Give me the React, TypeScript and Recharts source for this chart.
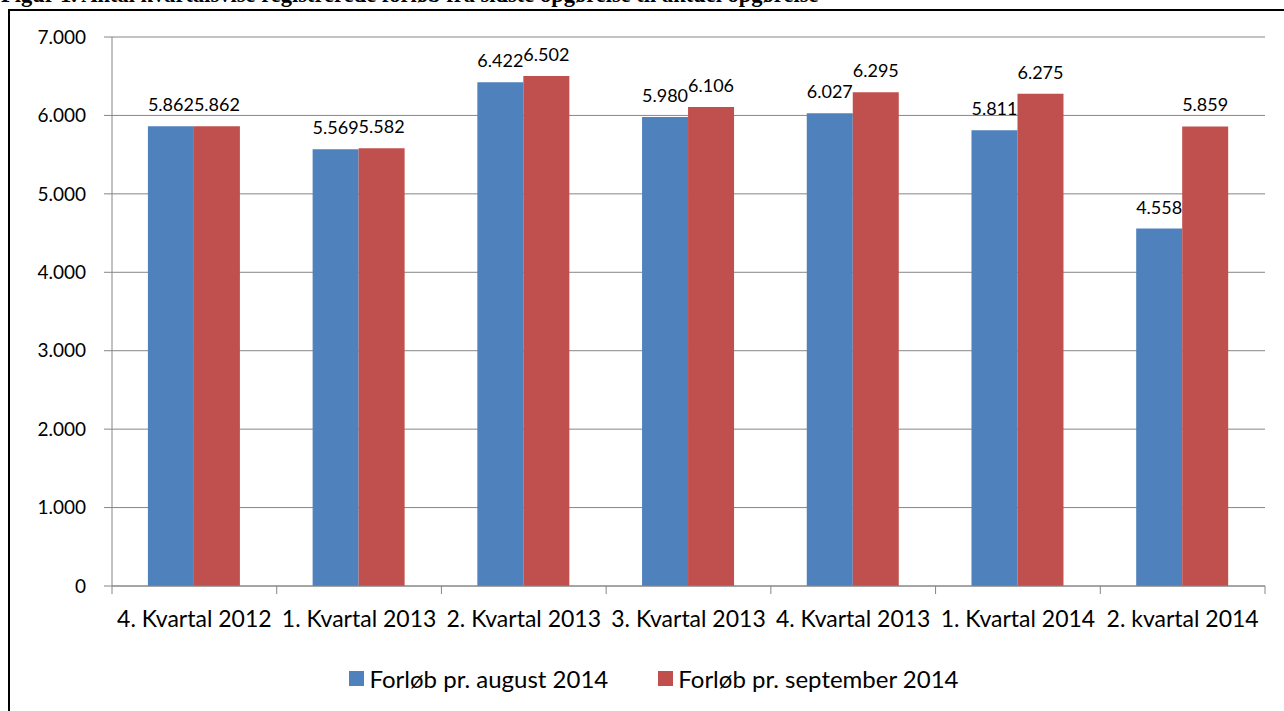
import React from 'react';
import { BarChart, Bar, XAxis, YAxis, CartesianGrid, Legend, LabelList } from 'recharts';

const QUARTERS = [
  '4. Kvartal 2012',
  '1. Kvartal 2013',
  '2. Kvartal 2013',
  '3. Kvartal 2013',
  '4. Kvartal 2013',
  '1. Kvartal 2014',
  '2. kvartal 2014',
];
const AUGUST = [5862, 5569, 6422, 5980, 6027, 5811, 4558];
const SEPTEMBER = [5862, 5582, 6502, 6106, 6295, 6275, 5859];
const Y_TICKS = [0, 1000, 2000, 3000, 4000, 5000, 6000, 7000];
const SERIES_NAMES = ['Forløb pr. august 2014', 'Forløb pr. september 2014'];
const TITLE = 'Figur 1. Antal kvartalsvise registrerede forløb fra sidste opgørelse til aktuel opgørelse';

const BLUE = '#4f81bd';
const RED = '#c0504d';
const AXIS = '#868686';
const TICK_SIZE = 8;
const X_TICK_MARGIN = 17;

const data = QUARTERS.map((q, i) => ({ q, aug: AUGUST[i], sep: SEPTEMBER[i] }));

// 5862 -> "5.862"
const fmt = (v: number) => String(v).replace(/\B(?=(\d{3})+(?!\d))/g, '.');

// tick marks sit between the categories, like in Excel
const QuarterTick = (props: any) => {
  const { x, y, payload, index, visibleTicksCount } = props;
  const half = payload?.offset ?? 0;
  const axisY = y - TICK_SIZE - X_TICK_MARGIN;
  return (
    <g>
      <line x1={x - half} x2={x - half} y1={axisY} y2={axisY + TICK_SIZE} stroke={AXIS} />
      {index === visibleTicksCount - 1 && (
        <line x1={x + half} x2={x + half} y1={axisY} y2={axisY + TICK_SIZE} stroke={AXIS} />
      )}
      <text x={x} y={y} dy="0.71em" textAnchor="middle" fontSize={23} fill="#000">
        {payload.value}
      </text>
    </g>
  );
};

const LegendBox = () => (
  <div
    style={{
      height: 30,
      display: 'flex',
      alignItems: 'center',
      justifyContent: 'center',
      paddingLeft: 24,
      fontSize: 24,
      color: '#000',
    }}
  >
    {SERIES_NAMES.map((name, i) => (
      <div key={name} style={{ display: 'flex', alignItems: 'center', marginRight: i === 0 ? 50 : 0 }}>
        <span style={{ width: 15, height: 15, background: i === 0 ? BLUE : RED, marginRight: 5 }} />
        <span>{name}</span>
      </div>
    ))}
  </div>
);

export default function App() {
  return (
    <div
      style={{
        position: 'absolute',
        left: 0,
        top: 0,
        width: 1284,
        height: 711,
        overflow: 'hidden',
        background: '#fff',
        fontFamily: 'Lato, sans-serif',
      }}
    >
      {/* the figure caption is cut by the top edge in the original */}
      <div
        style={{
          position: 'absolute',
          left: 1,
          top: -16,
          whiteSpace: 'nowrap',
          fontFamily: '"Liberation Serif", serif',
          fontWeight: 'bold',
          fontSize: 22.5,
          lineHeight: '22.5px',
        }}
      >
        {TITLE}
      </div>
      <div
        style={{
          position: 'absolute',
          left: 8,
          top: 9,
          width: 1400,
          height: 800,
          borderLeft: '2px solid #000',
          borderTop: '2px solid #000',
        }}
      />
      <div style={{ position: 'absolute', left: 0, top: 0 }}>
        <BarChart
          width={1284}
          height={711}
          data={data}
          margin={{ top: 37, right: 19, left: 0, bottom: 18 }}
          barGap={0}
          barCategoryGap="21.8%"
        >
          <CartesianGrid vertical={false} stroke={AXIS} />
          <XAxis
            dataKey="q"
            height={77}
            interval={0}
            tickLine={false}
            tickSize={TICK_SIZE}
            tickMargin={X_TICK_MARGIN}
            axisLine={{ stroke: AXIS }}
            tick={<QuarterTick />}
          />
          <YAxis
            width={112}
            domain={[0, 7000]}
            ticks={Y_TICKS}
            interval={0}
            tickFormatter={fmt}
            tickSize={TICK_SIZE}
            tickMargin={18}
            axisLine={{ stroke: AXIS }}
            tickLine={{ stroke: AXIS }}
            tick={{ fontSize: 19, fill: '#000' }}
          />
          <Legend verticalAlign="bottom" wrapperStyle={{ left: 0, width: 1284 }} content={<LegendBox />} />
          <Bar dataKey="aug" name={SERIES_NAMES[0]} fill={BLUE} isAnimationActive={false}>
            <LabelList dataKey="aug" position="top" offset={15} formatter={(v: any) => fmt(Number(v))} fontSize={18} fill="#000" />
          </Bar>
          <Bar dataKey="sep" name={SERIES_NAMES[1]} fill={RED} isAnimationActive={false}>
            <LabelList dataKey="sep" position="top" offset={15} formatter={(v: any) => fmt(Number(v))} fontSize={18} fill="#000" />
          </Bar>
        </BarChart>
      </div>
    </div>
  );
}
